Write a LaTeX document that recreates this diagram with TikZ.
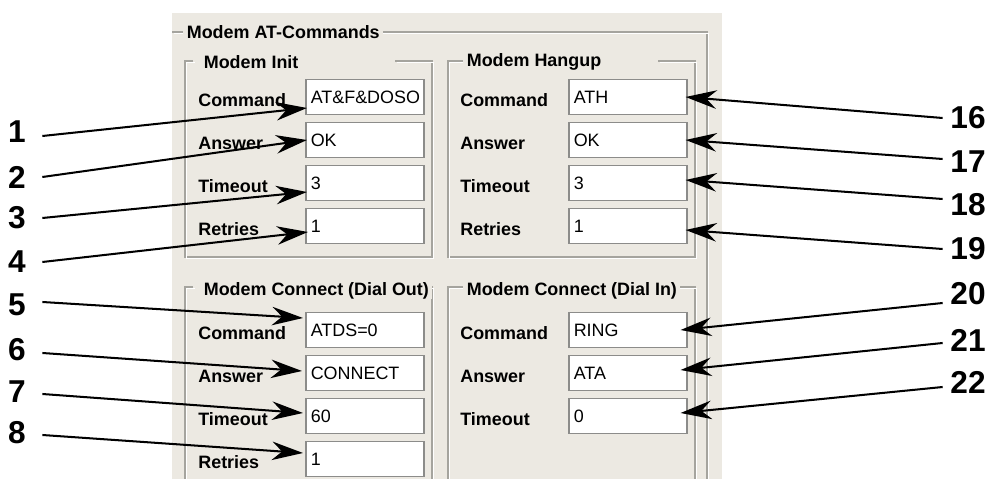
\documentclass[tikz,border=0pt]{standalone}
\usepackage{fontspec}
\setmainfont{Liberation Sans}
\usetikzlibrary{arrows.meta}
\usetikzlibrary{calc}

\definecolor{panelbg}{RGB}{236,233,226}
\definecolor{etchgray}{RGB}{165,164,158}
\definecolor{fieldgray}{RGB}{140,140,138}
\newcommand{\lblfont}{\fontsize{10.2}{12}\selectfont\bfseries}
\newcommand{\valfont}{\fontsize{10.2}{12}\selectfont}
\newcommand{\numfont}{\fontsize{18}{20}\selectfont\bfseries}

\tikzset{
  etch/.style={draw=etchgray, line width=1.1pt},
  etchlight/.style={draw=white, line width=0.8pt, shift={(1.6,1.6)}},
  grouptitle/.style={anchor=west, inner xsep=2pt, inner ysep=0pt, fill=panelbg, font=\lblfont},
  lbl/.style={anchor=west, inner sep=0pt, font=\lblfont},
  field/.style={anchor=west, draw=fieldgray, fill=white, line width=0.9pt, minimum height=0.7cm,
                text width=2.16cm, inner xsep=0.1cm, inner ysep=0pt, align=left, font=\valfont},
  callout/.style={font=\numfont, minimum width=1cm, inner sep=0pt},
  pointer/.style={line width=1.15pt, -{Stealth[length=0.62cm, width=0.37cm]}}
}

\begin{document}
\begin{tikzpicture}[x=0.02cm, y=-0.02cm]
            \useasboundingbox (0,0) rectangle (988,479);
            % dialog panel
            \fill[panelbg] (172,13) rectangle (722,479);

            % group frames (etched)
            \draw[etch] (183,32) -- (172,32);
            \draw[etch] (380,32) -- (707,32) -- (707,479);
            \draw[etch] (193,61) -- (185,61) -- (185,257) -- (432,257) -- (432,61) -- (395,61);
            \draw[etch] (463,61) -- (448,61) -- (448,257) -- (695,257) -- (695,61) -- (658,61);
            \draw[etch] (193,287) -- (185,287) -- (185,479);
            \draw[etch] (432,479) -- (432,287) -- (423,287);
            \draw[etch] (463,287) -- (448,287) -- (448,479);
            \draw[etch] (695,479) -- (695,287) -- (673,287);
            \draw[etchlight] (183,32) -- (172,32);
            \draw[etchlight] (380,32) -- (707,32) -- (707,479);
            \draw[etchlight] (193,61) -- (185,61) -- (185,257) -- (432,257) -- (432,61) -- (395,61);
            \draw[etchlight] (463,61) -- (448,61) -- (448,257) -- (695,257) -- (695,61) -- (658,61);
            \draw[etchlight] (193,287) -- (185,287) -- (185,479);
            \draw[etchlight] (432,479) -- (432,287) -- (423,287);
            \draw[etchlight] (463,287) -- (448,287) -- (448,479);
            \draw[etchlight] (695,479) -- (695,287) -- (673,287);

            \node[grouptitle] (atcmds) at (183,32) {Modem AT-Commands};
            \node[grouptitle] (init) at (200,62) {Modem Init};
            \node[grouptitle] (hangup) at (463,62) {Modem Hangup};
            \node[grouptitle] (dialout) at (200,291) {Modem Connect (Dial Out)};
            \node[grouptitle] (dialin) at (463,291) {Modem Connect (Dial In)};

            % Modem Init
            \node[lbl] (initcmdl) at (198,100) {Command};
            \node[lbl] (initansl) at (198,143) {Answer};
            \node[lbl] (inittol) at (198,186) {Timeout};
            \node[lbl] (initretl) at (198,229) {Retries};
            \node[field] (initcmd) at (305,97) {AT\&F\&DOSO};
            \node[field] (initans) at (305,140) {OK};
            \node[field] (initto) at (305,183) {3};
            \node[field] (initret) at (305,226) {1};

            % Modem Hangup
            \node[lbl] (hupcmdl) at (460,100) {Command};
            \node[lbl] (hupansl) at (460,143) {Answer};
            \node[lbl] (huptol) at (460,186) {Timeout};
            \node[lbl] (hupretl) at (460,229) {Retries};
            \node[field] (hupcmd) at (568,97) {ATH};
            \node[field] (hupans) at (568,140) {OK};
            \node[field] (hupto) at (568,183) {3};
            \node[field] (hupret) at (568,226) {1};

            % Modem Connect (Dial Out)
            \node[lbl] (outcmdl) at (198,333) {Command};
            \node[lbl] (outansl) at (198,376) {Answer};
            \node[lbl] (outtol) at (198,419) {Timeout};
            \node[lbl] (outretl) at (198,462) {Retries};
            \node[field] (outcmd) at (305,330) {ATDS=0};
            \node[field] (outans) at (305,373) {CONNECT};
            \node[field] (outto) at (305,416) {60};
            \node[field] (outret) at (305,459) {1};

            % Modem Connect (Dial In)
            \node[lbl] (incmdl) at (460,333) {Command};
            \node[lbl] (inansl) at (460,376) {Answer};
            \node[lbl] (intol) at (460,419) {Timeout};
            \node[field] (incmd) at (568,330) {RING};
            \node[field] (inans) at (568,373) {ATA};
            \node[field] (into) at (568,416) {0};

            % callout numbers
            \node[callout] (n1) at (17,132) {1};
            \node[callout] (n2) at (17,177) {2};
            \node[callout] (n3) at (17,218) {3};
            \node[callout] (n4) at (17,262) {4};
            \node[callout] (n5) at (17,305) {5};
            \node[callout] (n6) at (17,350) {6};
            \node[callout] (n7) at (17,392) {7};
            \node[callout] (n8) at (17,433) {8};
            \node[callout] (n16) at (968,118) {16};
            \node[callout] (n17) at (968,162) {17};
            \node[callout] (n18) at (968,205) {18};
            \node[callout] (n19) at (968,249) {19};
            \node[callout] (n20) at (968,294) {20};
            \node[callout] (n21) at (968,340) {21};
            \node[callout] (n22) at (968,382) {22};

            % pointers
            \draw[pointer] ($(n1.east)+(0,4)$) -- ($(initcmd.west)+(2,11)$);
            \draw[pointer] (n2.east) -- ($(initans.west)+(2,0)$);
            \draw[pointer] (n3.east) -- ($(initto.west)+(2,9)$);
            \draw[pointer] (n4.east) -- ($(initret.west)+(3,6)$);
            \draw[pointer] ($(n5.east)+(0,-3)$) -- ($(outcmd.west)+(-2,-12)$);
            \draw[pointer] ($(n6.east)+(0,3)$) -- ($(outans.west)+(-3,-2)$);
            \draw[pointer] ($(n7.east)+(0,2)$) -- ($(outto.west)+(-2,-3)$);
            \draw[pointer] ($(n8.east)+(0,2)$) -- ($(outret.west)+(-2,-6)$);
            \draw[pointer] (n16.west) -- ($(hupcmd.east)+(-2,0)$);
            \draw[pointer] ($(n17.west)+(0,-3)$) -- ($(hupans.east)+(-2,0)$);
            \draw[pointer] ($(n18.west)+(0,-6)$) -- ($(hupto.east)+(-2,-3)$);
            \draw[pointer] (n19.west) -- ($(hupret.east)+(-2,4)$);
            \draw[pointer] ($(n20.west)+(0,9)$) -- ($(incmd.east)+(-7,0)$);
            \draw[pointer] ($(n21.west)+(0,3)$) -- ($(inans.east)+(-7,-3)$);
            \draw[pointer] ($(n22.west)+(0,5)$) -- ($(into.east)+(-7,-3)$);
        \end{tikzpicture}
\end{document}
